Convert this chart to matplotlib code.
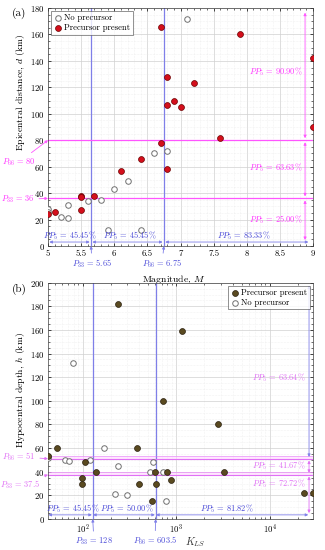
import matplotlib
matplotlib.use("Agg")
import matplotlib.pyplot as plt
from matplotlib.ticker import MultipleLocator, LogLocator, NullFormatter
import numpy as np

plt.rcParams['font.family'] = ['cmr10', 'DejaVu Serif']
plt.rcParams['mathtext.fontset'] = 'cm'
plt.rcParams['axes.formatter.use_mathtext'] = True

# ---------------- data (a) ----------------
Ma_pre = [5.0, 5.1, 5.5, 5.5, 5.5, 5.7, 6.1, 6.4, 6.7, 6.7, 6.8, 6.8, 6.8, 6.9, 7.0, 7.2, 7.6, 7.9, 9.0, 9.0]
da_pre = [24, 26, 38, 37, 27, 38, 57, 66, 78, 166, 58, 128, 107, 110, 105, 123, 82, 160, 142, 90]
Ma_no = [5.0, 5.0, 5.2, 5.3, 5.3, 5.6, 5.8, 5.9, 6.0, 6.2, 6.4, 6.6, 6.8, 7.1]
da_no = [28, 26, 22, 21, 31, 34, 35, 12, 43, 49, 12, 70, 72, 172]
pa_M = [5.65, 6.75]
pa_d = [36, 80]
ppa_x = ["45.45", "45.45", "83.33"]
ppa_y = ["25.00", "63.63", "90.90"]

# ---------------- data (b) ----------------
K_pre = [43, 53.5, 97.5, 97.5, 106, 138, 240, 381, 403, 555, 600, 612, 718, 803, 873, 1146, 2780, 3270, 23400, 29000]
h_pre = [53, 60, 35, 30, 48, 40, 182, 60, 30, 15, 40, 30, 100, 40, 33, 159, 80, 40, 22, 22]
K_no = [43, 43, 65, 72, 78.8, 120, 168, 223, 239, 300, 525, 569, 727, 783]
h_no = [53, 52, 50, 49, 132, 50, 60, 21, 45, 20, 40, 48, 40, 15]
pb_K = [128, 603.5]
pb_h = [37.5, 51]
ppb_x = ["45.45", "50.00", "81.82"]
ppb_y = ["72.72", "41.67", "63.64"]

BLUE = '#7f7fe8'
BLUE_T = '#4a4ad8'
MAG = '#ff55ff'
MAG_T = '#ff33ff'
VIO = '#e070f5'

fig = plt.figure(figsize=(3.25, 5.5), dpi=100)
axa = fig.add_axes([48/325, 1-246/550, 265/325, 238/550])
axb = fig.add_axes([48/325, 1-519/550, 265/325, 236.3/550])

FS = 6.3
AFS = 6.0

def style(ax):
    ax.grid(True, which='major', color='#d0d0d0', lw=0.5)
    ax.grid(True, which='minor', color='#e6e6e6', lw=0.4, ls=':')
    ax.tick_params(which='both', direction='in', labelsize=FS, top=True, right=True, pad=2.5)
    ax.tick_params(which='major', length=2.5, width=0.5)
    ax.tick_params(which='minor', length=1.2, width=0.4)
    for s in ax.spines.values():
        s.set_linewidth(0.5)
        s.set_color('#404040')
    ax.set_axisbelow(True)

def harrow(ax, x0, x1, y, color):
    ax.annotate('', xy=(x1, y), xytext=(x0, y),
                arrowprops=dict(arrowstyle='<|-|>', color=color, lw=0.6,
                                mutation_scale=4, shrinkA=0, shrinkB=0))

def varrow(ax, x, y0, y1, color):
    ax.annotate('', xy=(x, y1), xytext=(x, y0),
                arrowprops=dict(arrowstyle='<|-|>', color=color, lw=0.6,
                                mutation_scale=4, shrinkA=0, shrinkB=0))

def parrow(ax, text, xy, xyt, color, tcolor):
    ax.annotate(text, xy=xy, xycoords='data',
                xytext=(xyt[0]/325, 1-xyt[1]/550), textcoords='figure fraction',
                fontsize=AFS, color=tcolor, ha='center', va='center',
                arrowprops=dict(arrowstyle='-|>', color=color, lw=0.6, mutation_scale=4,
                                shrinkA=1, shrinkB=0))

# ================= panel (a) =================
ax = axa
style(ax)
ax.set_xlim(5, 9)
ax.set_ylim(0, 180)
ax.xaxis.set_minor_locator(MultipleLocator(0.1))
ax.yaxis.set_major_locator(MultipleLocator(20))
ax.yaxis.set_minor_locator(MultipleLocator(5))
ax.set_xticks([5, 5.5, 6, 6.5, 7, 7.5, 8, 8.5, 9])
ax.set_xticklabels(['5', '5.5', '6', '6.5', '7', '7.5', '8', '8.5', '9'])

for v in pa_M:
    ax.axvline(v, color=BLUE, lw=0.9, zorder=2)
for v in pa_d:
    ax.axhline(v, color=MAG, lw=0.9, zorder=2)

ax.scatter(Ma_no, da_no, s=16, facecolors='white', edgecolors='#707070', linewidths=0.7,
           zorder=4, label='No precursor')
ax.scatter(Ma_pre, da_pre, s=18, facecolors='#d40f1c', edgecolors='#6a0000', linewidths=0.5,
           zorder=5, label='Precursor present')

leg = ax.legend(loc='upper left', fontsize=6.2, frameon=True, fancybox=False,
                edgecolor='#404040', borderpad=0.3, handletextpad=0.2, labelspacing=0.15,
                handlelength=1.0, borderaxespad=0.4)
leg.get_frame().set_linewidth(0.5)

xb = [5.0] + pa_M + [8.95]
for i in range(3):
    harrow(ax, xb[i] + 0.02, xb[i+1] - 0.02, 3, BLUE)
xt = [5.33, 6.24, 7.95]
for i in range(3):
    ax.text(xt[i], 8, r'$PP_5$ = ' + ppa_x[i] + '%', color=BLUE_T, fontsize=AFS,
            ha='center', va='center', zorder=6)
yb = [3] + pa_d + [178]
for i in range(3):
    varrow(ax, 8.88, yb[i] + 1.5, yb[i+1] - 1.5, MAG)
yt = [20, 59.5, 131.5]
for i in range(3):
    ax.text(8.85, yt[i], r'$PP_5$ = ' + ppa_y[i] + '%', color=MAG_T, fontsize=AFS,
            ha='right', va='center', zorder=6)

ax.set_xlabel(r'Magnitude, $M$', fontsize=7, labelpad=1)
ax.xaxis.set_label_coords((174-48)/265, -(273-246)/238)
ax.set_ylabel(r'Epicentral distance, $d$ (km)', fontsize=7)
ax.yaxis.set_label_coords((27-48)/265, (246-92)/238)

parrow(ax, r'$P_{33}$ = 5.65', (pa_M[0], 0), (92, 263.5), BLUE, BLUE_T)
parrow(ax, r'$P_{66}$ = 6.75', (pa_M[1], 0), (162, 263.5), BLUE, BLUE_T)
parrow(ax, r'$P_{66}$ = 80', (5, pa_d[1]), (19, 162), MAG, MAG_T)
parrow(ax, r'$P_{33}$ = 36', (5, pa_d[0]), (18, 199.5), MAG, MAG_T)
fig.text(19/325, 1-13/550, '(a)', fontsize=8, fontweight='bold', ha='center', va='center')

# ================= panel (b) =================
ax = axb
ax.set_xscale('log')
style(ax)
ax.set_xlim(42.6, 29000)
ax.set_ylim(0, 200)
ax.xaxis.set_major_locator(LogLocator(base=10, numticks=10))
ax.xaxis.set_minor_locator(LogLocator(base=10, subs=np.arange(2, 10), numticks=20))
ax.xaxis.set_minor_formatter(NullFormatter())
ax.yaxis.set_major_locator(MultipleLocator(20))
ax.yaxis.set_minor_locator(MultipleLocator(5))

for v in pb_K:
    ax.axvline(v, color=BLUE, lw=0.9, zorder=2)
for v in pb_h:
    ax.axhspan(v, v + 2.5, color='#ffd6ff', alpha=0.6, lw=0, zorder=1)
    ax.axhline(v, color=VIO, lw=0.8, zorder=2)
    ax.axhline(v + 2.5, color=VIO, lw=0.5, alpha=0.7, zorder=2)

ax.scatter(K_no, h_no, s=16, facecolors='white', edgecolors='#707070', linewidths=0.7,
           zorder=3, label='No precursor')
ax.scatter(K_pre, h_pre, s=18, facecolors='#5a4a20', edgecolors='#2a2010', linewidths=0.5,
           zorder=5, label='Precursor present')
hh, ll = ax.get_legend_handles_labels()
leg = ax.legend(hh[::-1], ll[::-1], loc='upper right', fontsize=6.2, frameon=True, fancybox=False,
                edgecolor='#404040', borderpad=0.3, handletextpad=0.2, labelspacing=0.15,
                handlelength=1.0, borderaxespad=0.4)
leg.get_frame().set_linewidth(0.5)

xbb = [42.6] + pb_K + [26300]
for i in range(3):
    harrow(ax, xbb[i] * 1.01, xbb[i+1] / 1.02, 3.5, BLUE)
xtb = [78, 300, 3500]
for i in range(3):
    ax.text(xtb[i], 8.5, r'$PP_5$ = ' + ppb_x[i] + '%', color=BLUE_T, fontsize=AFS,
            ha='center', va='center', zorder=6)
ybb = [3.5] + pb_h + [199]
for i in range(3):
    varrow(ax, 26300, ybb[i] + 1.5, ybb[i+1] - 1.5, BLUE if i == 2 else VIO)
ytb = [29.6, 45, 119.6]
for i in range(3):
    ax.text(24500, ytb[i], r'$PP_5$ = ' + ppb_y[i] + '%', color=VIO, fontsize=AFS,
            ha='right', va='center', zorder=6)

ax.set_ylabel(r'Hypocentral depth, $h$ (km)', fontsize=7)
ax.yaxis.set_label_coords((27-48)/265, (519-390)/236.3)
fig.text(195/325, 1-542/550, r'$K_{LS}$', fontsize=7.5, ha='center', va='center', color='#333333')

parrow(ax, r'$P_{33}$ = 128', (pb_K[0], 0), (94, 541), BLUE, BLUE_T)
parrow(ax, r'$P_{66}$ = 603.5', (pb_K[1], 0), (155, 541), BLUE, BLUE_T)
parrow(ax, r'$P_{66}$ = 51', (42.6, pb_h[1]), (19, 456.7), VIO, VIO)
parrow(ax, r'$P_{33}$ = 37.5', (42.6, pb_h[0]), (20, 484.3), VIO, VIO)
fig.text(19/325, 1-289/550, '(b)', fontsize=8, fontweight='bold', ha='center', va='center')

fig.savefig('out.png', dpi=100)
